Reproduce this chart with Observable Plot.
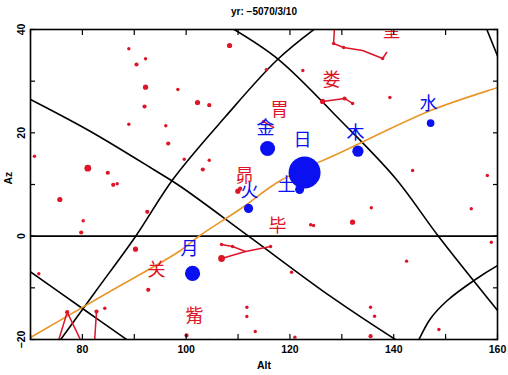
<!DOCTYPE html>
<html><head><meta charset="utf-8">
<script src="https://cdn.jsdelivr.net/npm/d3@7"></script>
<script src="https://cdn.jsdelivr.net/npm/@observablehq/plot@0.6"></script>
<style>body{margin:0;background:#fff}svg{display:block}</style>
</head><body><div id="chart"></div>
<script>
const title = "yr: −5070/3/10";
const xLabel = "Alt", yLabel = "Az";
const xTicks = [70, 80, 90, 100, 110, 120, 130, 140, 150, 160];
const xTickLabels = [80, 100, 120, 140, 160];
const yTicks = [-20, -10, 0, 10, 20, 30, 40];
const yTickLabels = [-20, 0, 20, 40];

// background stars: Alt, Az, brightness class (1 brightest .. 4 faintest)
const starAlt = [88.95,90.43,92.17,92.17,98.40,91.98,88.95,96.08,96.54,70.77,81.05,84.90,108.36,115.44,122.49,102.19,104.45,99.63,104.45,103.21,139.26,143.64,158.04,85.94,86.71,75.65,92.50,80.16,79.77,90.24,71.60,92.69,84.32,109.96,110.4,123.98,124.55,120.31,111.70,111.70,113.32,100.07,120.95,135.68,132.07,154.95,158.81,142.48,135.54,136.31,135.54,148.71,104.5,106.82,106.82,108.94,116.27,126.29,130.53,132.07,114.92,128.41,130.34,137.86,77.07,82.72];
const starAz  = [36.26,33.23,34.33,28.83,28.39,25.10,21.67,21.36,17.94,15.48,13.16,12.27,36.90,32.20,32.06,25.87,25.35,14.90,14.70,12.90,26.84,12.71,11.74,9.94,10.14,7.10,4.72,2.98,0.71,-2.52,-7.28,-10.38,-13.94,8.70,9.2,2.20,2.07,-6.97,-13.75,-15.55,-18.45,-19.22,-19.55,5.49,2.71,5.30,-1.17,-4.84,-13.75,-15.49,-19.36,-18.06,-20.2,-4.32,-1.61,-2.0,-2.0,26.07,26.65,25.68,22.19,37.29,36.52,34.39,-14.71,-14.58];
const starMag = [4,3,4,2,4,3,4,4,3,4,1,3,2,4,4,2,3,4,4,3,4,4,4,3,4,2,3,4,3,2,4,3,4,2,3,4,4,4,4,4,4,3,4,4,2,4,4,4,4,4,3,4,4,1,4,4,4,2,3,4,4,4,4,4,3,3];

// constellation figure lines
const conGroup = ["奎","奎","奎","奎","奎","奎","娄","娄","娄","胃","胃","毕1","毕1","毕1","毕2","毕2","毕2","参1","参1","参1","参2","参2"];
const conAlt = [128.60,128.41,130.34,134.0,137.86,138.63,126.29,130.53,132.07,114.92,116.84,106.82,108.94,111.45,106.82,111.45,116.27,75.11,77.07,80.16,82.72,82.30];
const conAz  = [40.6,37.29,36.52,35.94,34.39,35.55,26.07,26.65,25.68,22.19,21.03,-1.61,-2.0,-2.97,-4.32,-2.97,-2.0,-21.16,-14.71,-21.16,-14.58,-21.16];

// lunar mansion names
const mansionName = ["奎","娄","胃","昴","毕","觜","关"];
const mansionAlt = [139.59,128.02,118.0,111.25,117.61,101.61,94.29];
const mansionAz  = [39.6,30.13,24.32,11.55,1.87,-15.55,-6.64];

// sun, moon, planets
const bodyName = ["日","金","木","水","土","火","月"];
const bodyAlt = [122.82,115.69,133.10,147.11,121.86,112.02,101.23];
const bodyAz  = [12.32,16.97,16.45,21.87,9.03,5.36,-7.22];
const bodyLabelAlt = [122.43,115.30,132.65,146.72,119.35,112.22,100.65];
const bodyLabelAz  = [18.52,20.84,19.97,25.48,9.81,8.65,-2.58];

// coordinate grid curves
const gridId = ["A","A","A","A","A","A","A","B","B","B","B","B","B","B","C","C","C","C","C","C","D","D","E","E","E","F","F","F","F","F","F"];
const gridAlt = [70,81.57,93.71,98.92,112.02,127.83,140.94, 75.40,82.53,90.24,97.57,107.59,117.61,125.13, 108.94,117.81,129.76,140.36,148.65,160.02, 157.71,160.6, 69.61,80.02,89.08, 144.60,147.11,150.33,155.46,160.02,161.57];
const gridAz  = [26.45,20.26,12.90,9.61,0,-11.67,-20.39, -20.58,-10.71,-0.06,11.16,23.16,34.19,40.39, 40.19,34.19,22.39,11.16,-0.06,-14.38, 40.58,33.4, -6.64,-14.0,-20.39, -20.58,-15.93,-12.45,-8.58,-5.68,-4.9];

// ecliptic
const eclAlt = [69.04,70,84.46,98.92,102.39,110.5,118.19,129.76,147.11,160.02,161];
const eclAz  = [-20.19,-19.61,-11.19,-2.77,-0.06,5.3,10.77,16.19,24.32,28.77,29.1];

const RED = "#dd1526", BLUE = "#0a10f0", ORANGE = "#e8962a";
const starR = {1: 3.4, 2: 2.6, 3: 2.1, 4: 1.7};
const discR = {"日": 16, "金": 7.5, "木": 5.6, "水": 3.8, "土": 4.5, "火": 4.6, "月": 7.6};

const stars = starAlt.map((x, i) => ({x, y: starAz[i], m: starMag[i]}));
const con = conAlt.map((x, i) => ({x, y: conAz[i], g: conGroup[i]}));
const mansions = mansionName.map((t, i) => ({t, x: mansionAlt[i], y: mansionAz[i]}));
const bodies = bodyName.map((t, i) => ({t, x: bodyAlt[i], y: bodyAz[i], lx: bodyLabelAlt[i], ly: bodyLabelAz[i]}));
const grid = gridAlt.map((x, i) => ({x, y: gridAz[i], g: gridId[i]}));
const ecl = eclAlt.map((x, i) => ({x, y: eclAz[i]}));

const cjk = "Noto Sans CJK SC, sans-serif";
const latin = "Liberation Sans, Arial, sans-serif";

const chart = Plot.plot({
  width: 508, height: 375,
  marginLeft: 30, marginRight: 11, marginTop: 29, marginBottom: 36,
  x: {domain: [70, 160], axis: null},
  y: {domain: [-20, 40], axis: null},
  style: {background: "#fff"},
  marks: [
    Plot.ruleY([0], {stroke: "black", strokeWidth: 1.6, clip: true}),
    Plot.line(grid, {x: "x", y: "y", z: "g", stroke: "black", strokeWidth: 1.6, curve: "catmull-rom", clip: true}),
    Plot.line(ecl, {x: "x", y: "y", stroke: ORANGE, strokeWidth: 1.6, curve: "catmull-rom", clip: true}),
    Plot.line(con, {x: "x", y: "y", z: "g", stroke: RED, strokeWidth: 1.5, clip: true}),
    ...[1, 2, 3, 4].map(m => Plot.dot(stars.filter(d => d.m === m), {x: "x", y: "y", r: starR[m], fill: RED, clip: true})),
    Plot.text(mansions, {x: "x", y: "y", text: "t", fill: RED, fontSize: 18, fontFamily: cjk, clip: true}),
    ...bodies.map(b => Plot.dot([b], {x: "x", y: "y", r: discR[b.t], fill: BLUE, clip: true})),
    Plot.text(bodies, {x: "lx", y: "ly", text: "t", fill: BLUE, fontSize: 18, fontFamily: cjk, clip: true}),
    Plot.frame({stroke: "black", strokeWidth: 1.6}),
    Plot.axisX(xTicks, {anchor: "bottom", tickSize: -5, tickFormat: () => "", label: null, strokeWidth: 1.2}),
    Plot.axisX(xTicks, {anchor: "top", tickSize: -5, tickFormat: () => "", label: null, strokeWidth: 1.2}),
    Plot.axisY(yTicks, {anchor: "left", tickSize: -5, tickFormat: () => "", label: null, strokeWidth: 1.2}),
    Plot.axisY(yTicks, {anchor: "right", tickSize: -5, tickFormat: () => "", label: null, strokeWidth: 1.2}),
    Plot.text(xTickLabels, {x: d => d, frameAnchor: "bottom", dy: 6, lineAnchor: "top", text: d => String(d), fontSize: 10.5, fontWeight: "bold", fontFamily: latin, fill: "black"}),
    Plot.text(yTickLabels, {y: d => d, frameAnchor: "left", dx: -6, rotate: -90, lineAnchor: "bottom", textAnchor: "middle", text: d => String(d).replace("-", "−"), fontSize: 10.5, fontWeight: "bold", fontFamily: latin, fill: "black"}),
    Plot.text([xLabel], {frameAnchor: "bottom", dy: 29, text: d => d, fontSize: 10.5, fontWeight: "bold", fontFamily: latin, fill: "black"}),
    Plot.text([yLabel], {frameAnchor: "left", dx: -22, rotate: -90, text: d => d, fontSize: 10.5, fontWeight: "bold", fontFamily: latin, fill: "black"}),
    Plot.text([title], {frameAnchor: "top", dy: -22, text: d => d, fontSize: 10, fontWeight: "bold", fontFamily: latin, fill: "black"})
  ]
});
document.getElementById("chart").append(chart);
</script>
</body></html>
